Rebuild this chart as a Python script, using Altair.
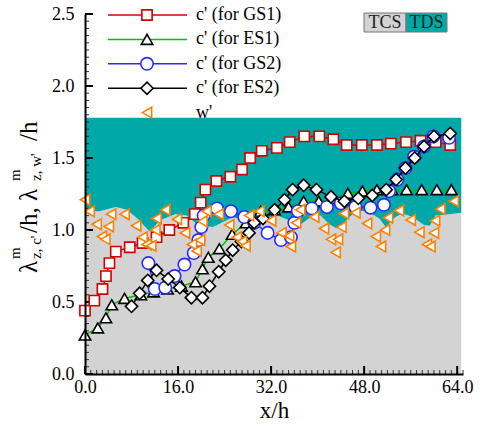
import altair as alt
import pandas as pd

# ---- measured series ----
gs1_x = [0, 1.6, 3.0, 3.6, 4.2, 5.3, 7.7, 9.9, 12.3, 14.5, 16.9, 18.9, 19.9, 20.7, 22.6, 25.0,
         27.0, 28.4, 30.4, 33.0, 35.2, 37.7, 40.3, 42.7, 45.0, 47.6, 50.2, 52.6, 55.2, 57.7, 60.3, 62.8]
gs1_y = [0.44, 0.51, 0.59, 0.68, 0.77, 0.85, 0.88, 0.91, 0.95, 1.00, 1.05, 1.11, 1.19, 1.28, 1.34, 1.37,
         1.42, 1.50, 1.55, 1.57, 1.61, 1.65, 1.65, 1.63, 1.59, 1.59, 1.59, 1.60, 1.61, 1.62, 1.61, 1.59]

es1_x = [0, 2.2, 3.6, 4.6, 6.8, 9.6, 11.8, 14.2, 16.6, 19.0, 20.2, 21.2, 23.1, 25.3, 27.7, 30.2,
         32.6, 35.0, 37.6, 40.2, 42.7, 45.2, 47.7, 50.2, 52.8, 55.3, 57.9, 60.5, 63.0]
es1_y = [0.27, 0.32, 0.39, 0.48, 0.525, 0.55, 0.57, 0.59, 0.61, 0.64, 0.73, 0.81, 0.87, 0.97, 1.05, 1.13,
         1.14, 1.16, 1.20, 1.20, 1.22, 1.255, 1.27, 1.28, 1.28, 1.28, 1.28, 1.28, 1.28]

gs2_x = [10.9, 12.0, 13.8, 15.4, 17.1, 18.7, 19.5, 20.0, 20.4, 22.7, 25.1, 27.4, 29.1, 31.4, 33.7, 35.4,
         36.0, 36.6, 39.0, 41.6, 44.0, 46.5, 49.1, 51.4, 52.3, 53.7, 55.1, 56.6, 58.3, 59.9, 62.6]
gs2_y = [0.77, 0.59, 0.60, 0.68, 0.76, 0.84, 0.93, 1.02, 1.10, 1.15, 1.13, 1.09, 1.05, 0.98, 0.93, 0.95,
         1.05, 1.13, 1.15, 1.16, 1.185, 1.16, 1.155, 1.175, 1.27, 1.35, 1.43, 1.51, 1.58, 1.65, 1.64]

es2_x = [8.0, 9.4, 10.8, 12.3, 14.3, 16.3, 18.3, 20.2, 21.4, 23.0, 24.2, 25.4, 26.9, 28.2, 29.1, 30.6,
         32.6, 34.3, 35.7, 37.6, 39.8, 42.3, 44.6, 47.0, 49.4, 51.8, 53.5, 55.1, 56.7, 58.3, 60.0, 62.8]
es2_y = [0.47, 0.56, 0.65, 0.72, 0.66, 0.60, 0.53, 0.53, 0.61, 0.71, 0.79, 0.86, 0.92, 0.98, 1.05, 1.08,
         1.14, 1.21, 1.28, 1.31, 1.28, 1.23, 1.20, 1.22, 1.24, 1.28, 1.35, 1.43, 1.50, 1.58, 1.65, 1.67]

w_x = [0.0, 0.8, 2.0, 2.9, 3.5, 4.1, 4.5, 6.8, 8.8, 9.9, 10.6, 11.4, 12.1, 12.3, 13.8, 15.8, 17.2, 18.4,
       19.2, 19.8, 20.2, 20.9, 23.0, 24.8, 26.1, 27.0, 27.6, 28.2, 30.0, 32.0, 33.8, 35.1, 35.4, 36.3,
       37.0, 39.4, 41.1, 42.3, 43.1, 43.5, 44.1, 44.5, 46.5, 48.5, 50.0, 50.9, 51.6, 52.1, 54.0, 56.0,
       57.5, 58.8, 59.4, 60.0, 60.2, 61.1, 63.4]
w_y = [1.21, 1.13, 1.04, 0.955, 0.935, 1.025, 1.11, 1.11, 1.03, 0.95, 0.90, 0.89, 1.00, 1.08, 1.14, 1.075,
       0.98, 0.90, 0.855, 0.93, 1.06, 1.13, 1.11, 1.035, 0.95, 0.92, 0.89, 1.10, 1.13, 1.065, 0.98, 0.96,
       0.885, 1.05, 1.14, 1.09, 1.01, 0.935, 0.845, 0.935, 1.02, 1.115, 1.12, 1.045, 0.955, 0.885, 1.0,
       1.085, 1.135, 1.07, 0.985, 0.90, 0.885, 0.98, 1.065, 1.145, 1.20]

# TCS / TDS interface and the upper edge of the TDS band
edge_x = [0.0, 2.5, 5.3, 7.2, 9.0, 11.1, 13.0, 15.5, 17.5, 19.5, 22.0, 23.5, 25.5, 27.5, 29.0, 31.0,
          33.0, 35.0, 36.5, 38.5, 40.5, 42.0, 43.3, 45.0, 46.8, 49.0, 50.6, 51.7, 53.4, 54.6, 56.3,
          58.3, 59.3, 60.3, 62.6, 64.7]
edge_y = [1.13, 1.13, 1.16, 1.14, 1.08, 0.99, 1.07, 1.11, 1.10, 1.03, 1.02, 1.05, 1.09, 1.06, 1.02, 1.08,
          1.10, 1.07, 1.02, 1.08, 1.10, 1.04, 1.01, 1.07, 1.14, 1.12, 1.08, 1.02, 1.09, 1.115, 1.09,
          1.035, 1.03, 1.10, 1.11, 1.12]
tds_top = 1.78

x_ticks = [0, 16, 32, 48, 64]
y_ticks = [0.0, 0.5, 1.0, 1.5, 2.0, 2.5]
x_minor = list(range(0, 66))
y_minor = [i * 0.05 for i in range(0, 51)]

SERIF = "Liberation Serif"
W, H = 378, 360
xs = alt.Scale(domain=[0, 65], nice=False, zero=False)
ys = alt.Scale(domain=[0, 2.5], nice=False, zero=False)

x_axis = alt.Axis(values=x_ticks, format=".1f", ticks=False, grid=False, domainColor="black",
                  domainWidth=2, labelFont=SERIF, labelFontSize=18, labelColor="black",
                  labelPadding=4, labelFlush=False, title="x/h", titleFont=SERIF, titleFontSize=23,
                  titleFontWeight="normal", titleColor="black", titlePadding=3, zindex=2)
y_axis = alt.Axis(values=y_ticks, format=".1f", ticks=False, grid=False, domainColor="black",
                  domainWidth=2, labelFont=SERIF, labelFontSize=18, labelColor="black",
                  labelPadding=11, labelFlush=False, title="", zindex=2)

zone = pd.DataFrame({"x": edge_x, "edge": edge_y, "base": [0.0] * len(edge_x),
                     "top": [tds_top] * len(edge_x)})
gray = alt.Chart(zone).mark_area(color="#d3d3d3", opacity=1).encode(
    x=alt.X("x:Q", scale=xs, axis=x_axis),
    y=alt.Y("edge:Q", scale=ys, axis=y_axis),
    y2="base:Q",
)
teal = alt.Chart(zone).mark_area(color="#00a8a8", opacity=1).encode(
    x=alt.X("x:Q", scale=xs), y=alt.Y("top:Q", scale=ys), y2="edge:Q")

# inward axis ticks
xt = pd.DataFrame({"v": x_minor, "major": [v % 16 == 0 for v in x_minor]})
yt = pd.DataFrame({"v": y_minor, "major": [abs(v / 0.5 - round(v / 0.5)) < 1e-6 for v in y_minor]})
x_min_t = alt.Chart(xt).transform_filter("!datum.major").mark_rule(color="#333", strokeWidth=1).encode(
    x=alt.X("v:Q", scale=xs), y=alt.value(H), y2=alt.value(H - 4))
x_maj_t = alt.Chart(xt).transform_filter("datum.major").mark_rule(color="black", strokeWidth=2).encode(
    x=alt.X("v:Q", scale=xs), y=alt.value(H), y2=alt.value(H - 8))
y_min_t = alt.Chart(yt).transform_filter("!datum.major").mark_rule(color="#333", strokeWidth=1).encode(
    y=alt.Y("v:Q", scale=ys), x=alt.value(0), x2=alt.value(4))
y_maj_t = alt.Chart(yt).transform_filter("datum.major").mark_rule(color="black", strokeWidth=2).encode(
    y=alt.Y("v:Q", scale=ys), x=alt.value(0), x2=alt.value(8))


def series(xv, yv, line_color, edge_color, shape, size, with_line=True):
    df = pd.DataFrame({"x": xv, "y": yv, "i": list(range(len(xv)))})
    base = alt.Chart(df).encode(x=alt.X("x:Q", scale=xs), y=alt.Y("y:Q", scale=ys))
    pts = base.mark_point(shape=shape, size=size, filled=True, fill="white", stroke=edge_color,
                          strokeWidth=1.6, opacity=1, fillOpacity=1, strokeOpacity=1)
    if with_line:
        ln = base.mark_line(color=line_color, strokeWidth=1.5).encode(order="i:Q")
        return [ln, pts]
    return [pts]


RED, GREEN, BLUE, ORANGE = "#d40000", "#00c000", "#2a2aff", "#ff8000"
SIZES = {"square": 105, "triangle-up": 130, "circle": 155, "diamond": 150, "triangle-left": 115}
layers = [gray, teal, x_min_t, x_maj_t, y_min_t, y_maj_t]
layers += series(gs1_x, gs1_y, RED, RED, "square", SIZES["square"])
layers += series(es1_x, es1_y, GREEN, "black", "triangle-up", SIZES["triangle-up"])
layers += series(gs2_x, gs2_y, BLUE, BLUE, "circle", SIZES["circle"])
layers += series(es2_x, es2_y, "black", "black", "diamond", SIZES["diamond"])
layers += series(w_x, w_y, ORANGE, ORANGE, "triangle-left", SIZES["triangle-left"], with_line=False)

# legend
legend_rows = [
    ("c' (for GS1)", RED, RED, "square", True),
    ("c' (for ES1)", GREEN, "black", "triangle-up", True),
    ("c' (for GS2)", BLUE, BLUE, "circle", True),
    ("c' (for ES2)", "black", "black", "diamond", True),
    ("w'", ORANGE, ORANGE, "triangle-left", False),
]
one = pd.DataFrame({"k": [0]})
for n, (label, lc, ec, shp, has_line) in enumerate(legend_rows):
    ry = 1 + n * 24.4
    if has_line:
        layers.append(alt.Chart(one).mark_rule(color=lc, strokeWidth=1.5).encode(
            x=alt.value(23), x2=alt.value(102), y=alt.value(ry)))
    layers.append(alt.Chart(one).mark_point(shape=shp, size=SIZES[shp], filled=True, fill="white",
                                            stroke=ec, strokeWidth=1.6, opacity=1).encode(
        x=alt.value(62), y=alt.value(ry)))
    layers.append(alt.Chart(one).mark_text(text=label, font=SERIF, fontSize=18, align="left",
                                           baseline="middle", color="black").encode(
        x=alt.value(111), y=alt.value(ry)))

# TCS / TDS key
layers.append(alt.Chart(one).mark_rect(color="#d3d3d3", stroke="#777", strokeWidth=1).encode(
    x=alt.value(279), x2=alt.value(321), y=alt.value(-1), y2=alt.value(18)))
layers.append(alt.Chart(one).mark_rect(color="#00a8a8", stroke="#777", strokeWidth=1).encode(
    x=alt.value(321), x2=alt.value(362), y=alt.value(-1), y2=alt.value(18)))
for label, cx in [("TCS", 300), ("TDS", 341.5)]:
    layers.append(alt.Chart(one).mark_text(text=label, font=SERIF, fontSize=18, align="center",
                                           baseline="middle", color="#222").encode(
        x=alt.value(cx), y=alt.value(9)))

# y-axis title with super/subscripts, read bottom to top
title_parts = [
    ("λ", 25, -48, 259),
    ("m", 15, -65, 245),
    ("z, c'", 15, -44, 245),
    ("/h, λ", 25, -48, 219),
    ("m", 15, -65, 167),
    ("z, w'", 15, -44, 167),
    ("/h", 25, -48, 127),
]
for txt, fs, bx, by in title_parts:
    layers.append(alt.Chart(one).mark_text(text=txt, font=SERIF, fontSize=fs, align="left",
                                           baseline="alphabetic", angle=270, color="black").encode(
        x=alt.value(bx), y=alt.value(by)))

chart = alt.layer(*layers).properties(
    width=W, height=H,
    padding={"left": 85, "top": 14, "right": 19, "bottom": 54},
    autosize=alt.AutoSizeParams(type="none"),
    background="white",
).configure_view(stroke="transparent")

chart.save("out.html", embed_options={"renderer": "svg", "actions": False})
